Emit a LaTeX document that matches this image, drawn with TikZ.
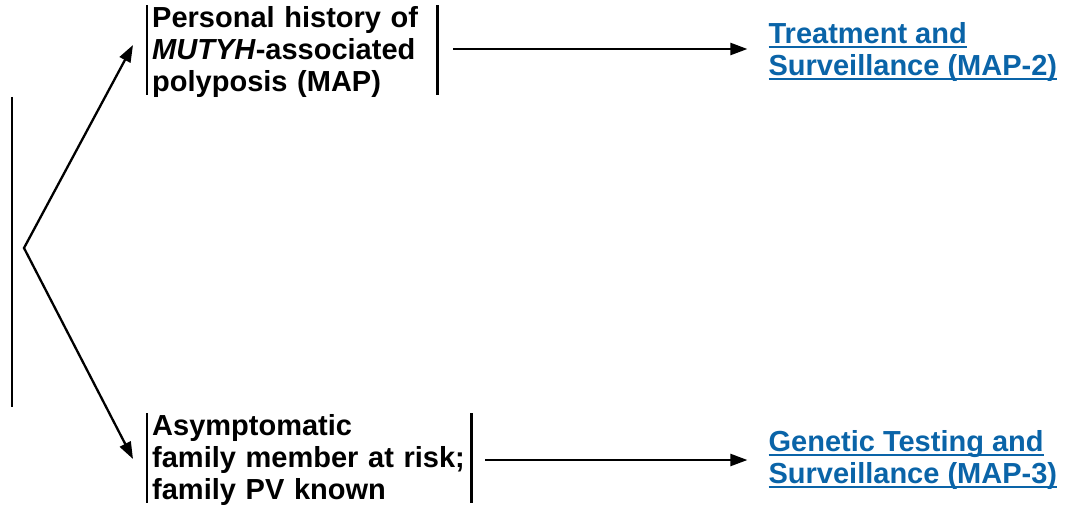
\documentclass[tikz,border=0pt]{standalone}
\usepackage{fontspec}
\setmainfont{Liberation Sans}
\usepackage{xcolor}
\usetikzlibrary{arrows.meta,positioning}
\definecolor{linkblue}{HTML}{0A64A8}
\newsavebox{\linkbox}
\newcommand{\ulk}[1]{\sbox{\linkbox}{#1}\rlap{\usebox{\linkbox}}\rule[-4pt]{\wd\linkbox}{2pt}}

\begin{document}
\begin{tikzpicture}[
  x=1pt, y=-1pt,
  font=\fontsize{29}{32}\selectfont\bfseries,
  cbox/.style={anchor=west,align=left,inner xsep=5pt,inner ysep=-1pt,text width=#1},
  link/.style={anchor=west,align=left,inner sep=0pt,text=linkblue},
  bar/.style={line width=2.3pt},
  arr/.style={-{Triangle[length=17pt,width=12pt]},line width=2.3pt}
]
\useasboundingbox (0,0) rectangle (1065,507);
\node[cbox=280pt] (hist) at (147,52) {Personal history of\\\textit{MUTYH}-associated\\polyposis (MAP)};
\node[cbox=314pt] (asym) at (147,460) {Asymptomatic\\family member at risk;\\family PV known};
\node[link,right=331pt of hist.east] (treat) {\ulk{Treatment and}\\\ulk{Surveillance (MAP-2)}};
\node[link,right=297pt of asym.east] (gentest) {\ulk{Genetic Testing and}\\\ulk{Surveillance (MAP-3)}};
\node[inner sep=0pt,minimum width=0pt,minimum height=310pt] (root) at (12,252) {};
\coordinate (fork) at (24,248);
% side bars
\draw[line width=2.6pt] (root.north) -- (root.south);
\draw[bar] ([yshift=2pt]hist.north west) -- ([yshift=2pt]hist.south west); \draw[bar] ([yshift=2pt]hist.north east) -- ([yshift=2pt]hist.south east);
\draw[bar] ([yshift=2pt]asym.north west) -- ([yshift=2pt]asym.south west); \draw[bar] ([yshift=2pt]asym.north east) -- ([yshift=2pt]asym.south east);
% arrows
\draw[arr,{Triangle[length=17pt,width=12pt]}-{Triangle[length=17pt,width=12pt]}] ([shift={(-14,-7)}]hist.west) -- (fork) -- ([shift={(-14,-1)}]asym.west);
\draw[arr,shorten <=16pt,shorten >=21pt] ([yshift=3pt]hist.east) -- ([yshift=3pt]hist.east -| treat.west);
\draw[arr,shorten <=14pt,shorten >=21pt] (asym.east) -- (asym.east -| gentest.west);
\end{tikzpicture}
\end{document}
